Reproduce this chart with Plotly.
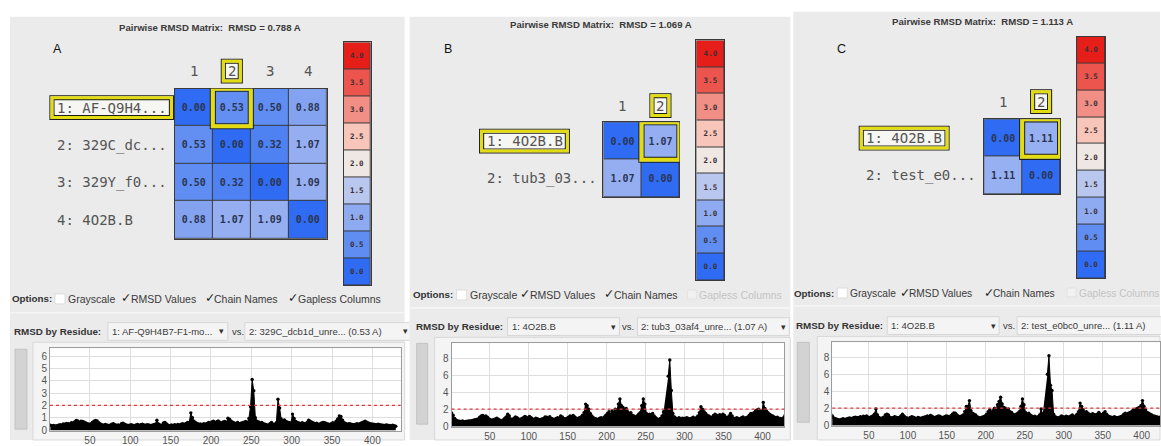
import plotly.graph_objects as go

W, H = 1161, 446

# ---------------------------------------------------------------- data
RESIDUES = list(range(1, 430, 2))          # residue numbers sampled along each chain
X_TICKS = [50, 100, 150, 200, 250, 300, 350, 400]
THRESHOLD = 2.0                            # dotted reference level (A)

LEGEND_LEVELS = [4.0, 3.5, 3.0, 2.5, 2.0, 1.5, 1.0, 0.5, 0.0]
LEGEND_COLORS = ["#e61e1a", "#ec554d", "#f18e86", "#f7c5ba", "#efe7e3",
                 "#b9c7ef", "#8eaaf1", "#5f8df1", "#2f6cf3"]

OPTION_LABELS = ["Grayscale", "RMSD Values", "Chain Names", "Gapless Columns"]

# Panel A
NAMES_A = ["1: AF-Q9H4...", "2: 329C_dc...", "3: 329Y_f0...", "4: 4O2B.B"]
MATRIX_A = [[0.00, 0.53, 0.50, 0.88],
            [0.53, 0.00, 0.32, 1.07],
            [0.50, 0.32, 0.00, 1.09],
            [0.88, 1.07, 1.09, 0.00]]
OVERALL_A = 0.788
PAIR_A = (0, 1)
MENU_A = ["1: AF-Q9H4B7-F1-mo...", "2: 329C_dcb1d_unre..."]
OPTIONS_A = [False, True, True, True]
PER_RES_A = [
    0.40, 0.35, 0.38, 0.33, 0.36, 0.40, 0.45, 0.42, 0.50, 0.48,
    0.55, 0.52, 0.50, 0.60, 0.58, 0.66, 0.78, 0.74, 0.62, 0.72,
    0.70, 0.64, 0.58, 0.52, 0.48, 0.50, 0.62, 0.72, 0.78, 0.74,
    0.60, 0.50, 0.44, 0.40, 0.46, 0.42, 0.38, 0.40, 0.48, 0.52,
    0.45, 0.40, 0.42, 0.38, 0.52, 0.56, 0.48, 0.42, 0.38, 0.40,
    0.44, 0.40, 0.36, 0.42, 0.46, 0.40, 0.44, 0.48, 0.42, 0.40,
    0.45, 0.42, 0.38, 0.40, 0.44, 0.48, 0.80, 0.50, 0.42, 0.40,
    0.58, 0.62, 0.50, 0.40, 0.36, 0.42, 0.38, 0.44, 0.40, 0.46,
    0.42, 0.48, 0.52, 0.46, 0.55, 0.62, 0.58, 1.40, 1.00, 0.72,
    0.60, 0.55, 0.48, 0.50, 0.44, 0.52, 0.48, 0.55, 0.62, 0.58,
    0.66, 0.72, 0.60, 0.68, 0.74, 0.64, 0.58, 0.66, 0.70, 0.62,
    0.96, 0.88, 0.72, 0.64, 0.58, 0.55, 0.62, 0.52, 0.56, 0.60,
    0.64, 0.70, 0.62, 0.95, 1.90, 4.10, 3.20, 1.00, 0.72, 0.66,
    0.58, 0.62, 0.52, 0.48, 0.44, 0.40, 0.52, 0.62, None, None,
    0.60, 2.50, 1.80, 0.90, 0.75, 0.82, 0.70, 0.64, 0.60, 0.58,
    1.30, 0.95, 0.70, 0.62, 0.58, 0.52, 0.60, 0.55, 0.50, 0.62,
    0.80, 0.72, 0.64, 0.58, 0.52, 0.56, 0.48, 0.50, 0.58, 0.62,
    0.60, 0.54, 0.50, 0.46, 0.52, 0.60, 0.55, 0.72, 0.90, 1.15,
    1.10, 0.80, 0.60, 0.55, 0.48, 0.52, 0.50, 0.46, 0.44, 0.48,
    0.52, 0.48, 0.55, 0.60, 0.66, 0.72, 0.64, 0.58, 0.52, 0.50,
    0.48, 0.46, 0.44, 0.48, 0.45, 0.42, 0.40, 0.38, 0.42, 0.40,
    0.38, 0.36, 0.40, 0.35, 0.32,
]

# Panel B
NAMES_B = ["1: 4O2B.B", "2: tub3_03..."]
MATRIX_B = [[0.00, 1.07],
            [1.07, 0.00]]
OVERALL_B = 1.069
PAIR_B = (0, 1)
MENU_B = ["1: 4O2B.B", "2: tub3_03af4_unre..."]
OPTIONS_B = [False, True, True, None]
PER_RES_B = [
    1.55, 1.30, 0.90, 0.70, 0.62, 0.58, 0.55, 0.60, 0.52, 0.55,
    0.58, 0.62, 0.60, 0.65, 0.70, 0.75, 0.80, 0.85, 1.05, 1.20,
    1.25, 1.15, 1.20, 1.05, 0.85, 0.75, 0.70, 0.78, 0.85, 0.95,
    0.82, 0.70, 0.65, 0.72, 0.90, 1.10, 1.40, 1.20, 0.85, 0.80,
    0.95, 1.10, 1.00, 0.85, 0.80, 0.90, 1.00, 1.15, 1.05, 0.90,
    1.15, 1.00, 0.85, 0.80, 0.95, 0.88, 0.80, 0.78, 0.85, 0.90,
    1.10, 1.05, 0.95, 1.12, 0.90, 0.85, 0.80, 0.92, 1.00, 0.95,
    1.20, 1.10, 0.90, 0.85, 0.95, 1.05, 1.20, 1.15, 1.25, 1.10,
    0.95, 0.90, 1.00, 1.10, 1.30, 1.60, 2.60, 2.40, 2.00, 1.50,
    1.20, 1.00, 0.90, 0.85, 0.80, 0.95, 1.00, 0.90, 1.10, 1.30,
    1.50, 1.70, 1.40, 1.80, 1.60, 2.00, 1.90, 2.60, 3.20, 2.40,
    2.20, 1.90, 2.10, 1.70, 1.50, 1.60, 1.30, 1.20, 1.10, 1.20,
    1.40, 1.60, 2.40, 3.20, 2.60, 1.50, 1.30, 1.40, 1.20, 1.50,
    1.20, 1.00, 0.85, 0.80, 0.90, 1.20, 1.70, None, None, 5.90,
    7.80, 4.20, 1.50, 1.10, 0.95, 0.90, 1.00, 0.85, 0.95, 0.90,
    0.95, 1.00, 0.90, 0.85, 0.95, 1.05, 0.90, 1.00, 1.20, 1.60,
    2.30, 2.00, 1.70, 1.50, 1.30, 1.20, 1.10, 1.00, 1.25, 1.40,
    1.30, 1.10, 1.35, 1.20, 1.40, 1.30, 1.05, 1.00, 1.20, 1.50,
    1.20, 0.95, 0.90, 1.00, 0.92, 0.85, 1.00, 1.10, 0.95, 1.00,
    1.10, 1.30, 1.50, 1.40, 1.60, 1.80, 1.90, 2.00, 1.80, 1.70,
    2.80, 2.10, 1.80, 1.60, 1.40, 1.30, 1.20, 1.10, 1.00, 1.05,
    0.95, 0.90, 0.85, 1.00, 1.30,
]

# Panel C
NAMES_C = ["1: 4O2B.B", "2: test_e0..."]
MATRIX_C = [[0.00, 1.11],
            [1.11, 0.00]]
OVERALL_C = 1.113
PAIR_C = (0, 1)
MENU_C = ["1: 4O2B.B", "2: test_e0bc0_unre..."]
OPTIONS_C = [False, True, True, None]
PER_RES_C = [
    1.30, 1.10, 0.85, 0.75, 0.70, 0.65, 0.62, 0.70, 0.75, 0.68,
    0.72, 0.80, 0.85, 0.78, 0.82, 0.90, 0.95, 0.88, 0.92, 1.00,
    0.95, 1.05, 1.00, 1.10, 0.95, 0.90, 1.00, 1.10, 1.30, 1.90,
    1.20, 0.90, 0.80, 0.85, 0.95, 1.20, 1.30, 1.20, 0.95, 0.85,
    0.90, 1.00, 0.95, 0.88, 0.92, 1.10, 1.30, 1.10, 0.90, 0.85,
    0.80, 0.90, 1.00, 0.95, 0.85, 0.80, 0.90, 0.85, 0.80, 0.92,
    0.95, 1.00, 1.10, 1.00, 1.15, 1.05, 0.95, 0.90, 1.00, 1.10,
    1.05, 0.95, 0.90, 1.00, 1.10, 1.05, 0.95, 1.10, 1.30, 1.45,
    1.40, 1.20, 1.05, 1.00, 1.10, 1.20, 1.60, 2.20, 2.20, 2.90,
    1.70, 1.40, 1.30, 1.20, 1.00, 0.90, 0.85, 0.95, 1.00, 1.10,
    1.30, 1.60, 1.80, 1.50, 1.70, 2.00, 1.90, 2.40, 2.80, 3.30,
    2.50, 2.10, 2.00, 1.80, 1.90, 1.60, 1.50, 1.30, 1.20, 1.30,
    1.40, 1.60, 2.20, 3.10, 2.40, 1.50, 1.30, 1.40, 1.20, 1.10,
    1.00, 1.05, 0.95, 1.00, 1.20, 1.90, 1.30, None, None, 6.00,
    8.20, 4.70, 4.10, 1.30, 1.00, 0.90, 0.85, 0.95, 1.10, 1.00,
    0.95, 1.05, 1.00, 0.95, 1.10, 1.20, 1.00, 1.10, 1.30, 1.60,
    2.60, 2.20, 1.80, 1.50, 1.60, 1.40, 1.30, 1.20, 1.35, 1.25,
    1.20, 1.30, 1.50, 1.30, 1.20, 1.40, 1.60, 1.30, 1.10, 1.00,
    0.95, 0.90, 1.00, 0.92, 0.88, 0.95, 1.00, 1.10, 1.30, 1.40,
    1.20, 1.40, 1.50, 1.60, 1.80, 1.70, 1.90, 2.00, 2.10, 2.30,
    2.90, 2.20, 1.80, 1.50, 1.40, 1.30, 1.20, 1.10, 1.05, 1.00,
    0.95, 0.90, 1.00, 1.10, 1.20,
]

for series in (PER_RES_A, PER_RES_B, PER_RES_C):
    assert len(series) == len(RESIDUES)

# ---------------------------------------------------------------- layout geometry (pixels)
GEOM_A = dict(
    panel=(10, 17, 405, 446), title=(210, 28), letter=(58, 50),
    heat=(175, 90, 327, 242), label_left=57, col_y=72, legend=(344, 43, 371, 289),
    opt_y=303, opt_head=12, opt_items=[(55, 68), (123, 131), (207, 214), (290, 298)],
    opt_size=10.5,
    sep_y=317, menu_y=336, menu_head=14, menu1=(108, 228), menu2=(245, 412), vs_x=232,
    slider=(15, 354, 27, 435), container=(33, 347, 405, 446),
    plot=(50, 353, 401, 437), xrange=[0.5, 435], yrange=[-0.08, 6.64],
    yticks=[0, 1, 2, 3, 4, 5, 6],
)
GEOM_B = dict(
    panel=(410, 17, 791, 446), title=(602, 25), letter=(448, 50),
    heat=(604, 124, 680, 200), label_left=487, col_y=107, legend=(697, 41, 725, 284),
    opt_y=299, opt_head=413, opt_items=[(457, 470), (522, 530), (607, 615), (688, 700)],
    opt_size=10.5,
    sep_y=312, menu_y=331, menu_head=416, menu1=(508, 620), menu2=(638, 790), vs_x=623,
    slider=(417, 348, 428, 430), container=(435, 342, 791, 446),
    plot=(452, 348, 785, 433), xrange=[1, 428], yrange=[-0.12, 9.77],
    yticks=[0, 2, 4, 6, 8],
)
GEOM_C = dict(
    panel=(794, 12, 1161, 446), title=(983, 22), letter=(842, 50),
    heat=(985, 121, 1061, 197), label_left=867, col_y=103, legend=(1078, 37, 1106, 282),
    opt_y=297, opt_head=795, opt_items=[(838, 851), (903, 910), (987, 994), (1068, 1080)],
    opt_size=10.2,
    sep_y=310, menu_y=330, menu_head=797, menu1=(888, 1000), menu2=(1018, 1175), vs_x=1004,
    slider=(798, 347, 810, 428), container=(818, 341, 1161, 446),
    plot=(833, 347, 1161, 432), xrange=[3, 423.5], yrange=[-0.12, 9.77],
    yticks=[0, 2, 4, 6, 8],
)

SANS = "Liberation Sans, Arial, sans-serif"
MONO = "DejaVu Sans Mono, monospace"
PANEL_BG = "#ebebeb"
YELLOW = "#e3dc12"
OUTLINE = "#1c1c1c"
MONO_CHAR = 0.602  # advance width of the mono face, in em

COLORSCALE = sorted([[lvl / 4.0, col] for lvl, col in zip(LEGEND_LEVELS, LEGEND_COLORS)])


def px(x):
    return x / W


def py(y):
    return 1 - y / H


fig = go.Figure()
axes = {}
shapes = []
annotations = []
axis_count = [0]


def new_axes(box, xcfg, ycfg):
    axis_count[0] += 1
    n = axis_count[0]
    s = "" if n == 1 else str(n)
    x0, y0, x1, y1 = box
    axes["xaxis" + s] = dict(domain=[px(x0), min(px(x1), 1.0)], anchor="y" + s, **xcfg)
    axes["yaxis" + s] = dict(domain=[py(y1), py(y0)], anchor="x" + s, **ycfg)
    return "x" + s, "y" + s


def frame_axis(rng):
    return dict(range=rng, showticklabels=False, showgrid=False, zeroline=False,
                showline=True, mirror=True, linecolor="#3a3a3a", linewidth=1,
                ticks="", fixedrange=True)


def prect(x0, y0, x1, y1, fill=None, line=None, lw=1.0, layer="below"):
    shapes.append(dict(type="rect", xref="paper", yref="paper",
                       x0=px(x0), x1=px(x1), y0=py(y1), y1=py(y0),
                       fillcolor=fill or "rgba(0,0,0,0)",
                       line=dict(color=line or "rgba(0,0,0,0)", width=lw if line else 0),
                       layer=layer))


def ptext(x, y, s, size=10.0, color="#333333", family=SANS, anchor="left"):
    annotations.append(dict(x=px(x), y=py(y), xref="paper", yref="paper", text=s,
                            showarrow=False, xanchor=anchor, yanchor="middle",
                            borderpad=0, borderwidth=0,
                            font=dict(size=size, color=color, family=family)))


def highlight(xref, yref, x0, y0, x1, y1, ux, uy, band=3.0, fill=None):
    """Yellow selection band centred on the given rectangle, edged by thin dark lines."""
    if fill:
        shapes.append(dict(type="rect", xref=xref, yref=yref, x0=x0, x1=x1, y0=y0, y1=y1,
                           fillcolor=fill, line=dict(width=0), layer="above"))
    half = band / 2 + 0.5
    for off, col, w in ((half, OUTLINE, 1.1), (-half, OUTLINE, 1.1), (0, YELLOW, band)):
        shapes.append(dict(type="rect", xref=xref, yref=yref,
                           x0=x0 - off * ux, x1=x1 + off * ux,
                           y0=y0 - off * uy, y1=y1 + off * uy,
                           line=dict(color=col, width=w), fillcolor="rgba(0,0,0,0)",
                           layer="above"))


def build_panel(letter, names, matrix, overall, pair, menu, opts, per_res, g):
    # panel background and static captions
    prect(*g["panel"], fill=PANEL_BG)
    tx, ty = g["title"]
    ptext(tx, ty, f"<b>Pairwise RMSD Matrix:  RMSD = {overall:.3f} A</b>",
          size=9.6, color="#3a3a3a", anchor="center")
    lx, ly = g["letter"]
    ptext(lx, ly, letter, size=12.5, color="#111111", anchor="center")

    # ---- pairwise matrix
    n = len(names)
    hx0, hy0, hx1, hy1 = g["heat"]
    cell = (hx1 - hx0) / n
    xa, ya = new_axes(g["heat"], frame_axis([-0.5, n - 0.5]), frame_axis([n - 0.5, -0.5]))
    shapes.append(dict(type="rect", xref=f"{xa} domain", yref=f"{ya} domain",
                       x0=0, x1=1, y0=0, y1=1, fillcolor="#3a3a3a",
                       line=dict(width=0), layer="below"))
    fig.add_trace(go.Heatmap(
        z=matrix, x=list(range(n)), y=list(range(n)),
        colorscale=COLORSCALE, zmin=0, zmax=4, showscale=False,
        xgap=1, ygap=1, texttemplate="<b>%{z:.2f}</b>",
        textfont=dict(family=MONO, size=10, color="#2b3552"),
        hoverinfo="skip", xaxis=xa, yaxis=ya))

    r_sel, c_sel = pair
    font_px = 14
    label_font = dict(family=MONO, size=font_px, color="#555555")

    # row labels (selected one gets a yellow frame)
    for i, name in enumerate(names):
        if i == r_sel:
            cy = hy0 + (i + 0.5) * cell
            x_left = g["label_left"]
            x_right = x_left + len(name) * MONO_CHAR * font_px
            highlight("paper", "paper", px(x_left - 5), py(cy + 10), px(x_right + 5),
                      py(cy - 10), 1 / W, 1 / H, band=3.0, fill="#f6f6f3")
        annotations.append(dict(x=px(g["label_left"]), y=i, xref="paper", yref=ya,
                                text=name, showarrow=False, xanchor="left",
                                yanchor="middle", borderpad=0, borderwidth=0,
                                font=label_font))

    # column labels
    for j in range(n):
        if j == c_sel:
            cy = g["col_y"]
            hw = 8.5 / cell
            highlight(xa, "paper", j - hw, py(cy + 10), j + hw, py(cy - 10),
                      1 / cell, 1 / H, band=3.0, fill="#f6f6f3")
        annotations.append(dict(x=j, y=py(g["col_y"]), xref=xa, yref="paper",
                                text=str(j + 1), showarrow=False, xanchor="center",
                                yanchor="middle", borderpad=0, borderwidth=0,
                                font=label_font))

    # selected cell
    highlight(xa, ya, c_sel - 0.5, r_sel - 0.5, c_sel + 0.5, r_sel + 0.5,
              1 / cell, 1 / cell, band=4.0)

    # ---- colour key
    xb, yb = new_axes(g["legend"], frame_axis([-0.5, 0.5]),
                      frame_axis([len(LEGEND_LEVELS) - 0.5, -0.5]))
    shapes.append(dict(type="rect", xref=f"{xb} domain", yref=f"{yb} domain",
                       x0=0, x1=1, y0=0, y1=1, fillcolor="#3a3a3a",
                       line=dict(width=0), layer="below"))
    fig.add_trace(go.Heatmap(
        z=[[v] for v in LEGEND_LEVELS], x=[0], y=list(range(len(LEGEND_LEVELS))),
        colorscale=COLORSCALE, zmin=0, zmax=4, showscale=False,
        xgap=1, ygap=1, texttemplate="<b>%{z:.1f}</b>",
        textfont=dict(family=MONO, size=7.5, color="#3b2e33"),
        hoverinfo="skip", xaxis=xb, yaxis=yb))

    # ---- options row
    oy = g["opt_y"]
    ptext(g["opt_head"], oy, "<b>Options:</b>", size=9.8, color="#333333")
    for (bx, tx_), label, state in zip(g["opt_items"], OPTION_LABELS, opts):
        if state is True:
            ptext(bx + 3, oy - 1, "<b>✓</b>", size=12.5, color="#1e1e1e",
                  family="DejaVu Sans", anchor="center")
        elif state is False:
            prect(bx, oy - 5, bx + 10, oy + 5, fill="#ffffff", line="#cfcfcf", lw=0.6)
        else:
            prect(bx, oy - 5, bx + 9, oy + 4, fill="#f1f1f1", line="#dadada", lw=0.6)
        ptext(tx_, oy, label, size=g["opt_size"],
              color="#c4c4c4" if state is None else "#3a3a3a")

    x0p, _, x1p, _ = g["panel"]
    shapes.append(dict(type="line", xref="paper", yref="paper",
                       x0=px(x0p), x1=px(x1p), y0=py(g["sep_y"]), y1=py(g["sep_y"]),
                       line=dict(color="#f9f9f9", width=1.2), layer="below"))

    # ---- residue selector row
    my = g["menu_y"]
    ptext(g["menu_head"], my, "<b>RMSD by Residue:</b>", size=9.8, color="#333333")
    m1x0, m1x1 = g["menu1"]
    prect(m1x0, my - 9, m1x1, my + 9, fill="#f4f4f4", line="#d0d0d0", lw=0.8)
    ptext(m1x0 + 4, my, menu[0], size=9.5, color="#3a3a3a")
    ptext(m1x1 - 6, my, "▾", size=9, color="#333333", family="DejaVu Sans", anchor="center")
    ptext(g["vs_x"], my, "vs.", size=9.5, color="#3a3a3a")
    m2x0, m2x1 = g["menu2"]
    prect(m2x0, my - 9, m2x1, my + 9, fill="#f4f4f4", line="#d0d0d0", lw=0.8)
    pair_value = matrix[r_sel][c_sel]
    ptext(m2x0 + 4, my, f"{menu[1]} ({pair_value:.2f} A)", size=9.5, color="#3a3a3a")
    if m2x1 - 6 < W:
        ptext(m2x1 - 6, my, "▾", size=9, color="#333333", family="DejaVu Sans",
              anchor="center")

    # ---- per-residue plot
    prect(*g["container"], fill="#f4f4f4", line="#d2d2d2", lw=0.8)
    prect(*g["slider"], fill="#d3d3d3", line="#bcbcbc", lw=0.8)
    tick_font = dict(size=10, color="#555555", family=SANS)
    xcfg = dict(range=g["xrange"], tickvals=X_TICKS, showgrid=True, gridcolor="#dedede",
                gridwidth=1, zeroline=False, showline=True, mirror=True,
                linecolor="#9c9c9c", linewidth=1, ticks="", tickfont=tick_font,
                fixedrange=True)
    ycfg = dict(range=g["yrange"], tickvals=g["yticks"], showgrid=True,
                gridcolor="#dedede", gridwidth=1, zeroline=False, showline=True,
                mirror=True, linecolor="#9c9c9c", linewidth=1, ticks="",
                tickfont=tick_font, fixedrange=True)
    xp, yp = new_axes(g["plot"], xcfg, ycfg)
    shapes.append(dict(type="rect", xref=f"{xp} domain", yref=f"{yp} domain",
                       x0=0, x1=1, y0=0, y1=1, fillcolor="#ffffff",
                       line=dict(width=0), layer="below"))
    fig.add_trace(go.Scatter(
        x=RESIDUES, y=per_res, mode="lines+markers",
        line=dict(color="#000000", width=1), marker=dict(size=3.4, color="#000000"),
        fill="tozeroy", fillcolor="#000000", connectgaps=False,
        hoverinfo="skip", xaxis=xp, yaxis=yp))
    shapes.append(dict(type="line", xref=f"{xp} domain", yref=yp, x0=0, x1=1,
                       y0=THRESHOLD, y1=THRESHOLD,
                       line=dict(color="#e0393b", width=1.3, dash="dot"), layer="above"))


build_panel("A", NAMES_A, MATRIX_A, OVERALL_A, PAIR_A, MENU_A, OPTIONS_A, PER_RES_A, GEOM_A)
build_panel("B", NAMES_B, MATRIX_B, OVERALL_B, PAIR_B, MENU_B, OPTIONS_B, PER_RES_B, GEOM_B)
build_panel("C", NAMES_C, MATRIX_C, OVERALL_C, PAIR_C, MENU_C, OPTIONS_C, PER_RES_C, GEOM_C)

fig.update_layout(
    width=W, height=H, margin=dict(l=0, r=0, t=0, b=0, pad=0),
    paper_bgcolor="#ffffff", plot_bgcolor="rgba(0,0,0,0)",
    showlegend=False, hovermode=False, dragmode=False,
    shapes=shapes, annotations=annotations, **axes,
)

fig.write_html("out.html", config={"displayModeBar": False, "staticPlot": True})
